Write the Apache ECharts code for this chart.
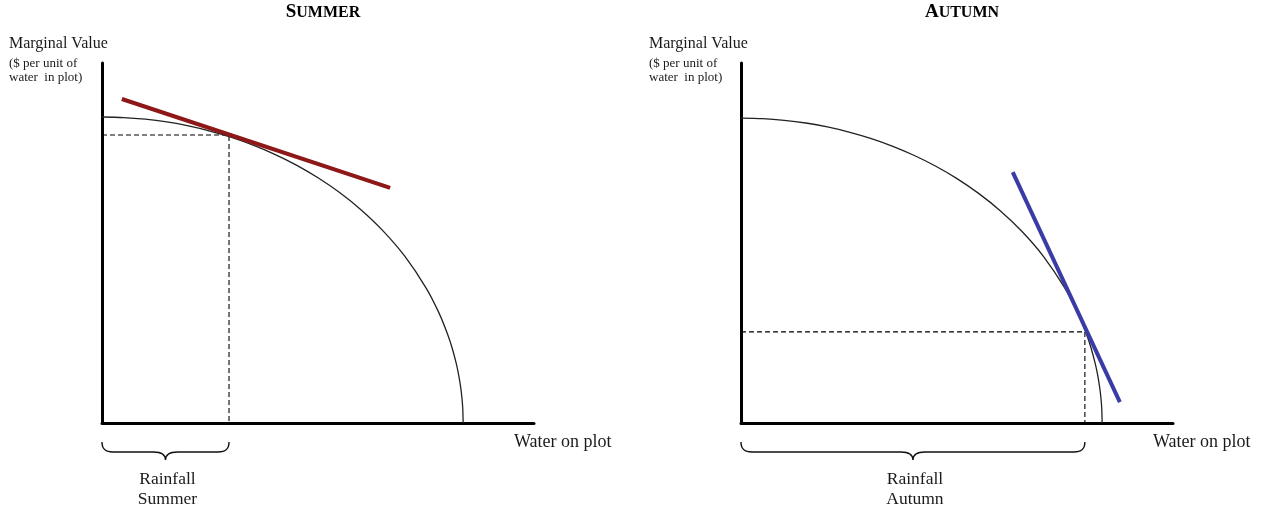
<!DOCTYPE html>
<html>
<head>
<meta charset="utf-8">
<script src="https://cdn.jsdelivr.net/npm/echarts@6/dist/echarts.min.js"></script>
<style>
html,body{margin:0;padding:0;background:#fff;}
#c{width:1269px;height:511px;}
</style>
</head>
<body>
<div id="c"></div>
<script>
// ---- data (axes run 0..100 in both panels) ----
const panelTitles = ['SUMMER', 'AUTUMN'];
const rainLabels = ['Rainfall\nSummer', 'Rainfall\nAutumn'];

const summerCurve = [[0,85],[5,84.85],[10,84.39],[15,83.62],[20,82.53],[25,81.11],[30,79.34],[35,77.19],
  [40,74.64],[45,71.64],[50,68.12],[55,64.01],[60,59.19],[65,53.45],[70,46.47],[75,37.55],[78,30.59],
  [80,24.67],[81,21.03],[82,16.55],[82.5,13.74],[83,10.16],[83.3,7.19],[83.5,4.16],[83.6,0]];
const autumnCurve = [[0,84.7],[5,84.55],[10,84.09],[15,83.33],[20,82.24],[25,80.82],[30,79.06],[35,76.92],
  [40,74.38],[45,71.39],[50,67.88],[55,63.78],[60,58.98],[65,53.26],[70,46.31],[75,37.42],[78,30.48],
  [80,24.58],[81,20.96],[82,16.49],[82.5,13.69],[83,10.12],[83.3,7.16],[83.5,4.15],[83.6,0]];

const summerTangent = [[4.6,90],[66.7,65.3]];
const autumnTangent = [[62.9,69.7],[87.7,5.8]];

const summerPoint = [29.4, 80];
const autumnPoint = [79.6, 25.3];

const summerBrace = [[0, 29.4]];
const autumnBrace = [[0, 79.6]];

// ---- chart ----
const FONT = '"Liberation Serif", "Times New Roman", serif';
const TXT = '#1a1a1a';
const chart = echarts.init(document.getElementById('c'), null, {renderer: 'canvas'});

function axisCfg(idx) {
  return {
    type: 'value', min: 0, max: 100, gridIndex: idx,
    axisLine: {show: true, onZero: false, lineStyle: {color: '#000', width: 3}},
    axisTick: {show: false}, axisLabel: {show: false}, splitLine: {show: false}
  };
}

function dashed(pt) { return [[0, pt[1]], [pt[0], pt[1]], [pt[0], 0]]; }

function braceRender(labelIdx) {
  return function (params, api) {
    const a = api.coord([api.value(0), 0]);
    const b = api.coord([api.value(1), 0]);
    const x0 = a[0], x1 = b[0], y0 = a[1] + 19;
    const m = (x0 + x1) / 2;
    const d = 'M' + x0 + ',' + y0 +
      ' C' + x0 + ',' + (y0 + 7) + ' ' + (x0 + 3) + ',' + (y0 + 10) + ' ' + (x0 + 11) + ',' + (y0 + 10) +
      ' L' + (m - 12) + ',' + (y0 + 10) +
      ' C' + (m - 4) + ',' + (y0 + 10) + ' ' + m + ',' + (y0 + 12) + ' ' + m + ',' + (y0 + 18) +
      ' C' + m + ',' + (y0 + 12) + ' ' + (m + 4) + ',' + (y0 + 10) + ' ' + (m + 12) + ',' + (y0 + 10) +
      ' L' + (x1 - 11) + ',' + (y0 + 10) +
      ' C' + (x1 - 3) + ',' + (y0 + 10) + ' ' + x1 + ',' + (y0 + 7) + ' ' + x1 + ',' + y0;
    return {
      type: 'group',
      children: [
        {type: 'path', shape: {pathData: d}, style: {fill: null, stroke: '#111', lineWidth: 1.4}},
        {type: 'text', style: {text: rainLabels[labelIdx], x: m + 2, y: y0 + 27, align: 'center',
          verticalAlign: 'top', fill: TXT, font: '17.5px ' + FONT, lineHeight: 20}}
      ]
    };
  };
}

function titleRich(t) {
  return '{a|' + t[0] + '}{b|' + t.slice(1) + '}';
}

const option = {
  animation: false,
  backgroundColor: '#fff',
  title: [
    {text: titleRich(panelTitles[0]), left: 318, top: -2, textAlign: 'center',
      textStyle: {rich: {a: {fontFamily: FONT, fontWeight: 'bold', fontSize: 19, color: '#000'},
        b: {fontFamily: FONT, fontWeight: 'bold', fontSize: 16, color: '#000'}}}},
    {text: titleRich(panelTitles[1]), left: 957, top: -2, textAlign: 'center',
      textStyle: {rich: {a: {fontFamily: FONT, fontWeight: 'bold', fontSize: 19, color: '#000'},
        b: {fontFamily: FONT, fontWeight: 'bold', fontSize: 16, color: '#000'}}}}
  ],
  graphic: [
    {type: 'text', x: 9, y: 36, style: {text: 'Marginal Value', fill: TXT, font: '16px ' + FONT}},
    {type: 'text', x: 9, y: 57, style: {text: '($ per unit of\nwater  in plot)', fill: TXT, font: '13px ' + FONT, lineHeight: 14}},
    {type: 'text', x: 649, y: 36, style: {text: 'Marginal Value', fill: TXT, font: '16px ' + FONT}},
    {type: 'text', x: 649, y: 57, style: {text: '($ per unit of\nwater  in plot)', fill: TXT, font: '13px ' + FONT, lineHeight: 14}},
    {type: 'text', x: 514, y: 433, style: {text: 'Water on plot', fill: TXT, font: '18px ' + FONT}},
    {type: 'text', x: 1153, y: 433, style: {text: 'Water on plot', fill: TXT, font: '18px ' + FONT}}
  ],
  grid: [
    {left: 102, top: 63, width: 432, height: 360},
    {left: 741, top: 63, width: 432, height: 360}
  ],
  xAxis: [axisCfg(0), axisCfg(1)],
  yAxis: [axisCfg(0), axisCfg(1)],
  series: [
    {type: 'line', xAxisIndex: 0, yAxisIndex: 0, data: dashed(summerPoint), symbol: 'none', silent: true,
      lineStyle: {color: '#000', width: 1.1, type: [5, 3]}, z: 1},
    {type: 'line', xAxisIndex: 0, yAxisIndex: 0, data: summerCurve, symbol: 'none', smooth: 0.3,
      lineStyle: {color: '#222', width: 1.3}, z: 2},
    {type: 'line', xAxisIndex: 0, yAxisIndex: 0, data: summerTangent, symbol: 'none',
      lineStyle: {color: '#8e1717', width: 4}, z: 3},
    {type: 'custom', xAxisIndex: 0, yAxisIndex: 0, data: summerBrace, renderItem: braceRender(0), clip: false},

    {type: 'line', xAxisIndex: 1, yAxisIndex: 1, data: dashed(autumnPoint), symbol: 'none', silent: true,
      lineStyle: {color: '#000', width: 1.1, type: [5, 3]}, z: 1},
    {type: 'line', xAxisIndex: 1, yAxisIndex: 1, data: autumnCurve, symbol: 'none', smooth: 0.3,
      lineStyle: {color: '#222', width: 1.3}, z: 2},
    {type: 'line', xAxisIndex: 1, yAxisIndex: 1, data: autumnTangent, symbol: 'none',
      lineStyle: {color: '#3a3ca6', width: 4}, z: 3},
    {type: 'custom', xAxisIndex: 1, yAxisIndex: 1, data: autumnBrace, renderItem: braceRender(1), clip: false}
  ]
};
chart.setOption(option);
</script>
</body>
</html>
